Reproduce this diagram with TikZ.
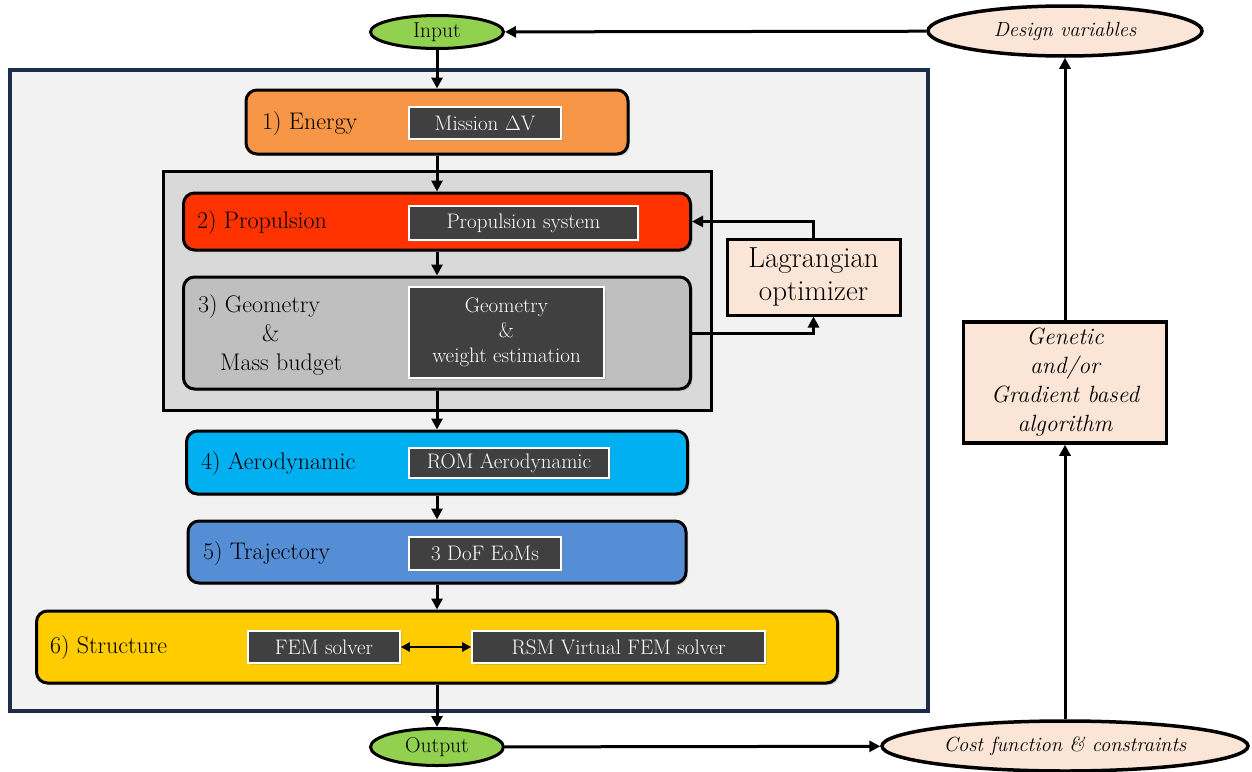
\documentclass[tikz,border=0pt]{standalone}
\usepackage{fontspec}
\usetikzlibrary{arrows.meta,shapes.geometric,shadows}
\definecolor{panelbg}{HTML}{F2F2F2}
\definecolor{panelrule}{HTML}{1C2D4A}
\definecolor{groupbg}{HTML}{D9D9D9}
\definecolor{energyc}{HTML}{F79646}
\definecolor{propc}{HTML}{FF3300}
\definecolor{geoc}{HTML}{BFBFBF}
\definecolor{aeroc}{HTML}{00B0F0}
\definecolor{trajc}{HTML}{558ED5}
\definecolor{structc}{HTML}{FFCC00}
\definecolor{toolc}{HTML}{404040}
\definecolor{peach}{HTML}{FBE5D6}
\definecolor{ioc}{HTML}{92D050}
% size plus a slightly heavier stroke for all labels
\newcommand\fsz[2]{\fontsize{#1}{#2}\selectfont\addfontfeatures{FakeBold=1.5}}
\begin{document}
\begin{tikzpicture}[x=1pt,y=-1pt,
  softshadow/.style={drop shadow={opacity=0.3,shadow xshift=2pt,shadow yshift=-2pt}},
  stage/.style={draw=black,line width=3pt,rounded corners=11pt,inner sep=0pt,softshadow},
  tool/.style={draw=white,line width=1.6pt,fill=toolc,text=white,inner sep=0pt,
    font=\fsz{21}{25},align=center,softshadow},
  stagelabel/.style={anchor=west,inner sep=0pt,font=\fsz{24}{29}},
  terminal/.style={ellipse,draw=black,line width=3pt,fill=ioc,inner sep=0pt,
    font=\fsz{21.5}{24}},
  outer/.style={ellipse,draw=black,line width=3.5pt,fill=peach,inner sep=0pt,
    font=\itshape\fsz{20.5}{24}},
  optbox/.style={draw=black,line width=3.5pt,fill=peach,inner sep=0pt,align=center},
  arr/.style={line width=3pt,-{Triangle[length=11pt,width=11pt]}},
  darr/.style={line width=2.6pt,{Triangle[length=9pt,width=9pt]}-{Triangle[length=9pt,width=9pt]}}
]
\useasboundingbox (0,0) rectangle (1252,771);

% main panel and subsystem group
\node[draw=panelrule,line width=3.5pt,fill=panelbg,minimum width=918pt,minimum height=641pt,inner sep=0pt]
  (panel) at (469,390.5) {};
\node[draw=black,line width=3pt,fill=groupbg,minimum width=548pt,minimum height=239pt,inner sep=0pt]
  (group) at (437,290.5) {};

% input / output terminals
\node[terminal,minimum width=133pt,minimum height=33pt] (input) at (437,32) {Input};
\node[terminal,minimum width=133pt,minimum height=37pt] (output) at (437,747) {Output};

% outer optimisation loop
\node[outer,minimum width=274pt,minimum height=50pt] (dv) at (1065,31) {Design variables};
\node[outer,minimum width=366pt,minimum height=50pt] (cost) at (1065,746) {Cost function \& constraints};
\node[optbox,minimum width=203pt,minimum height=121pt,font=\itshape\fsz{23.5}{29}] (ga) at (1065,382.5)
  {Genetic\\and/or\\Gradient based\\algorithm};
\node[optbox,line width=3pt,minimum width=173pt,minimum height=76pt,font=\fsz{29}{33}] (lag) at (813.5,277)
  {Lagrangian\\optimizer};

% stages
\node[stage,fill=energyc,minimum width=382pt,minimum height=64pt] (energy) at (437,122) {};
\node[stagelabel] at (262,124) {1) Energy};
\node[tool,minimum width=152pt,minimum height=32pt] (dvtool) at (485,123) {Mission $\Delta$V};

\node[stage,fill=propc,minimum width=507pt,minimum height=57pt] (prop) at (437,221.5) {};
\node[stagelabel] at (197,223) {2) Propulsion};
\node[tool,minimum width=229pt,minimum height=34pt] (proptool) at (523.5,223) {Propulsion system};

\node[stage,fill=geoc,minimum width=507pt,minimum height=112pt] (geo) at (437,333) {};
\node[stagelabel,align=left] at (198,335)
  {3) Geometry\\\hspace*{64pt}\&\\\hspace*{22pt}Mass budget};
\node[tool,minimum width=195pt,minimum height=91pt] (geotool) at (506.5,332.5) {Geometry\\\&\\weight estimation};

\node[stage,fill=aeroc,minimum width=501pt,minimum height=63pt] (aero) at (437,462.5) {};
\node[stagelabel] at (201,464) {4) Aerodynamic};
\node[tool,minimum width=200pt,minimum height=30pt] (aerotool) at (509,463) {ROM Aerodynamic};

\node[stage,fill=trajc,minimum width=498pt,minimum height=62pt] (traj) at (437,552) {};
\node[stagelabel] at (203,554) {5) Trajectory};
\node[tool,minimum width=152pt,minimum height=33pt] (trajtool) at (485,553.5) {3 DoF EoMs};

\node[stage,fill=structc,minimum width=801pt,minimum height=72pt] (struct) at (437,647) {};
\node[stagelabel] at (50,648) {6) Structure};
\node[tool,minimum width=152pt,minimum height=32pt] (fem) at (324,647) {FEM solver};
\node[tool,minimum width=293pt,minimum height=32pt] (rsm) at (618.5,647) {RSM Virtual FEM solver};

% flow through the stages
\draw[arr] (input) -- (energy);
\draw[arr] (energy) -- (prop);
\draw[arr] (prop) -- (geo);
\draw[arr] (geo) -- (aero);
\draw[arr] (aero) -- (traj);
\draw[arr] (traj) -- (struct);
\draw[arr] (struct) -- (output);
\draw[darr] (fem) -- (rsm);

% inner Lagrangian loop
\draw[arr] (lag.north) |- (prop.east);
\draw[arr] (geo.east) -| (lag.south);

% outer loop
\draw[arr] (output) -- (cost);
\draw[arr] (cost) -- (ga);
\draw[arr] (ga) -- (dv);
\draw[arr] (dv) -- (input);
\end{tikzpicture}
\end{document}
